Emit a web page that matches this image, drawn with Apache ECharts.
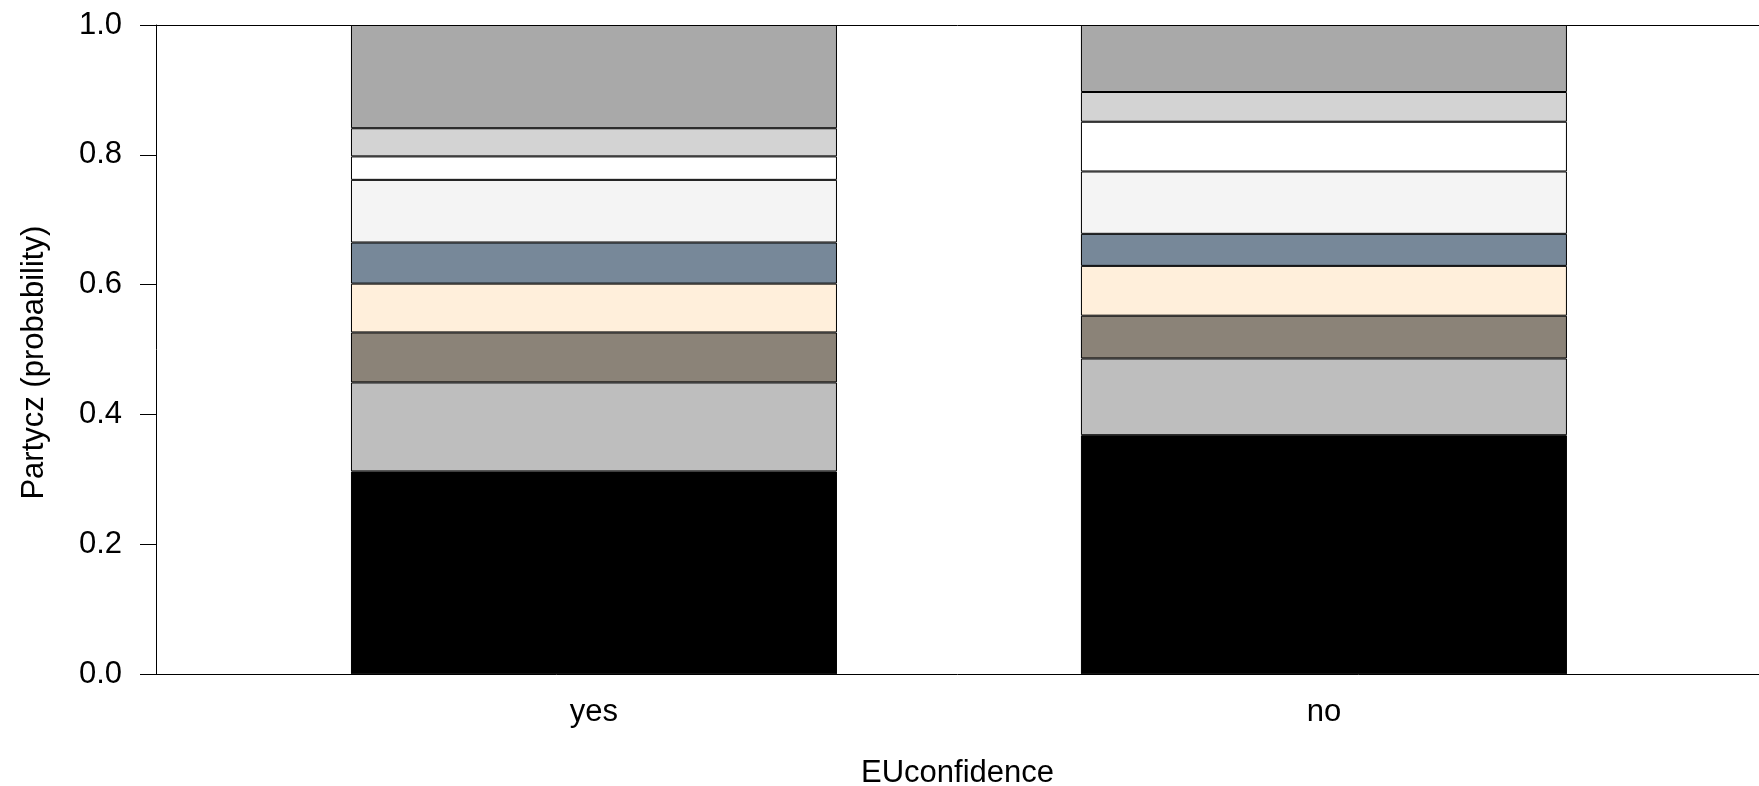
<!DOCTYPE html>
<html>
<head>
<meta charset="utf-8">
<script src="https://cdn.jsdelivr.net/npm/echarts@6/dist/echarts.min.js"></script>
<style>
html,body{margin:0;padding:0;background:#fff;}
#chart{width:1759px;height:786px;}
</style>
</head>
<body>
<div id="chart"></div>
<script>
// Categories on the x axis
var categories = ['yes', 'no'];
// Stacked segments, bottom to top (proportions)
var seg1 = [0.3124, 0.3682];
var seg2 = [0.1371, 0.1182];
var seg3 = [0.0770, 0.0659];
var seg4 = [0.0752, 0.0767];
var seg5 = [0.0633, 0.0494];
var seg6 = [0.0965, 0.0960];
var seg7 = [0.0361, 0.0766];
var seg8 = [0.0434, 0.0458];
var seg9 = [0.1590, 0.1032];
var segments = [seg1, seg2, seg3, seg4, seg5, seg6, seg7, seg8, seg9];
var segmentNames = ['1', '2', '3', '4', '5', '6', '7', '8', '9'];
var segmentColors = ['#000000', '#bebebe', '#8b8378', '#ffefdb', '#778899', '#f4f4f4', '#ffffff', '#d3d3d3', '#a9a9a9'];
var yTicks = [0, 0.2, 0.4, 0.6, 0.8, 1.0];

var FONT = 'Liberation Sans, Arial, sans-serif';
var FS = 31;

var series = segments.map(function (vals, i) {
  return {
    type: 'bar',
    name: segmentNames[i],
    stack: 'total',
    barWidth: 486,
    encode: { x: 1, y: 0 },
    itemStyle: { color: segmentColors[i], borderColor: '#000', borderWidth: 1 },
    data: vals.map(function (v, j) { return [v, j + 1]; })
  };
});

var chart = echarts.init(document.getElementById('chart'));
chart.setOption({
  animation: false,
  backgroundColor: '#fff',
  grid: { left: 156, right: 0, top: 25, bottom: 786 - 674.3, containLabel: false, outerBoundsMode: 'none' },
  xAxis: [{
    type: 'value',
    min: 0.4,
    max: 2.596,
    position: 'bottom',
    name: 'EUconfidence',
    nameLocation: 'middle',
    nameGap: 84,
    nameTextStyle: { color: '#000', fontFamily: FONT, fontSize: FS },
    axisLine: { show: true, onZero: false, lineStyle: { color: '#000', width: 1 } },
    axisTick: { show: false },
    splitLine: { show: false },
    axisLabel: {
      customValues: categories.map(function (c, j) { return j + 1; }),
      formatter: function (v) { return categories[Math.round(v) - 1] || ''; },
      color: '#000', fontFamily: FONT, fontSize: FS, margin: 23
    }
  }, {
    type: 'value',
    min: 0.4,
    max: 2.596,
    position: 'top',
    axisLine: { show: true, onZero: false, lineStyle: { color: '#000', width: 1 } },
    axisTick: { show: false },
    axisLabel: { show: false },
    splitLine: { show: false }
  }],
  yAxis: {
    type: 'value',
    min: 0,
    max: 1,
    interval: 0.2,
    name: 'Partycz (probability)',
    nameLocation: 'middle',
    nameGap: 106,
    nameTextStyle: { color: '#000', fontFamily: FONT, fontSize: FS, padding: [0, 26, 0, 0] },
    axisLine: { show: true, lineStyle: { color: '#000', width: 1 } },
    axisTick: { show: true, inside: false, length: 16, lineStyle: { color: '#000', width: 1 } },
    splitLine: { show: false },
    axisLabel: {
      color: '#000', fontFamily: FONT, fontSize: FS, margin: 34,
      formatter: function (v) { return v.toFixed(1); }
    }
  },
  series: series
});
</script>
</body>
</html>
